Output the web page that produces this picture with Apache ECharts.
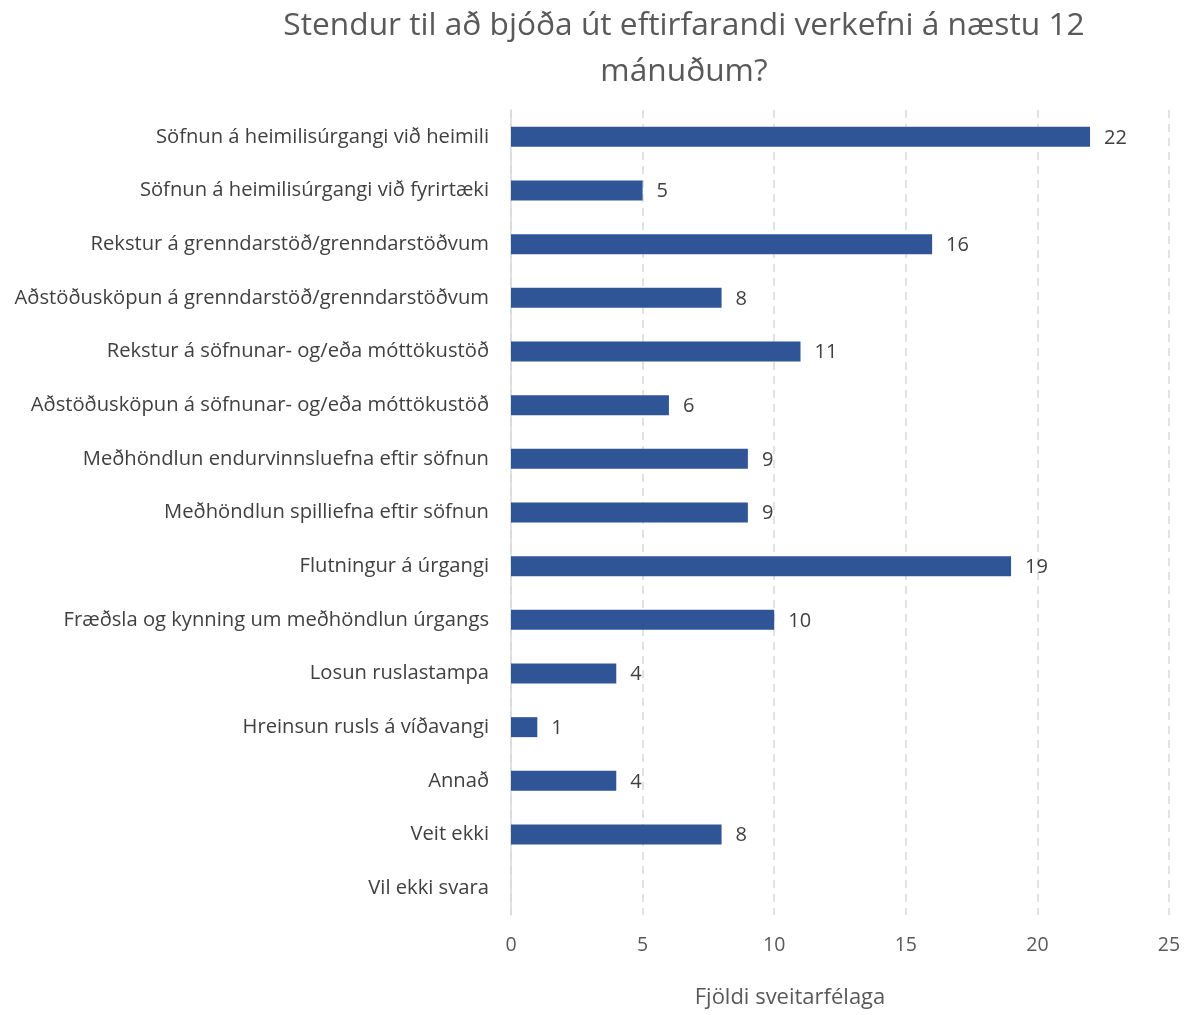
<!DOCTYPE html>
<html>
<head>
<meta charset="utf-8">
<script src="https://cdn.jsdelivr.net/npm/echarts@6/dist/echarts.min.js"></script>
<style>
html,body{margin:0;padding:0;background:#fff;}
#chart{width:1184px;height:1015px;}
</style>
</head>
<body>
<div id="chart"></div>
<script>
// Verkefni (flokkar), talin ofan frá og niður
const categories = [
  "Söfnun á heimilisúrgangi við heimili",
  "Söfnun á heimilisúrgangi við fyrirtæki",
  "Rekstur á grenndarstöð/grenndarstöðvum",
  "Aðstöðusköpun á grenndarstöð/grenndarstöðvum",
  "Rekstur á söfnunar- og/eða móttökustöð",
  "Aðstöðusköpun á söfnunar- og/eða móttökustöð",
  "Meðhöndlun endurvinnsluefna eftir söfnun",
  "Meðhöndlun spilliefna eftir söfnun",
  "Flutningur á úrgangi",
  "Fræðsla og kynning um meðhöndlun úrgangs",
  "Losun ruslastampa",
  "Hreinsun rusls á víðavangi",
  "Annað",
  "Veit ekki",
  "Vil ekki svara"
];
// Fjöldi sveitarfélaga fyrir hvern flokk
const counts = [22, 5, 16, 8, 11, 6, 9, 9, 19, 10, 4, 1, 4, 8, null];
const xTicks = [0, 5, 10, 15, 20, 25];

const FONT = "'Open Sans', 'Noto Sans', sans-serif";
const chart = echarts.init(document.getElementById('chart'));
chart.setOption({
  animation: false,
  title: {
    text: 'Stendur til að bjóða út eftirfarandi verkefni á næstu 12\nmánuðum?',
    left: 679,
    textAlign: 'center',
    top: -2,
    textStyle: {
      fontFamily: FONT, fontWeight: 'normal', fontSize: 31.7,
      color: '#595959', lineHeight: 46
    }
  },
  grid: { left: 511, right: 15, top: 110, bottom: 100, containLabel: false },
  xAxis: {
    type: 'value', min: 0, max: 25, interval: 5,
    axisLine: { show: false }, axisTick: { show: false },
    axisLabel: {
      fontFamily: FONT, fontSize: 19.5, color: '#595959', margin: 20,
      formatter: v => xTicks.includes(v) ? String(v) : ''
    },
    splitLine: { show: true, lineStyle: { color: '#d9d9d9', type: [8, 6], width: 1.5 } }
  },
  yAxis: {
    type: 'category', inverse: true, data: categories,
    axisLine: { show: true, lineStyle: { color: '#d9d9d9', width: 1.5 } },
    axisTick: { show: false },
    axisLabel: { fontFamily: FONT, fontSize: 20.2, color: '#404040', margin: 22 }
  },
  graphic: [{
    type: 'text', x: 790, y: 987,
    style: {
      text: 'Fjöldi sveitarfélaga',
      textAlign: 'center',
      font: "22px 'Open Sans', 'Noto Sans', sans-serif", fill: '#595959'
    }
  }],
  series: [{
    type: 'bar', data: counts, barWidth: 20,
    itemStyle: { color: '#2F5597' },
    label: {
      show: true, position: 'right', distance: 14, offset: [0, 1],
      fontFamily: FONT, fontSize: 20, color: '#404040'
    }
  }]
});
</script>
</body>
</html>
